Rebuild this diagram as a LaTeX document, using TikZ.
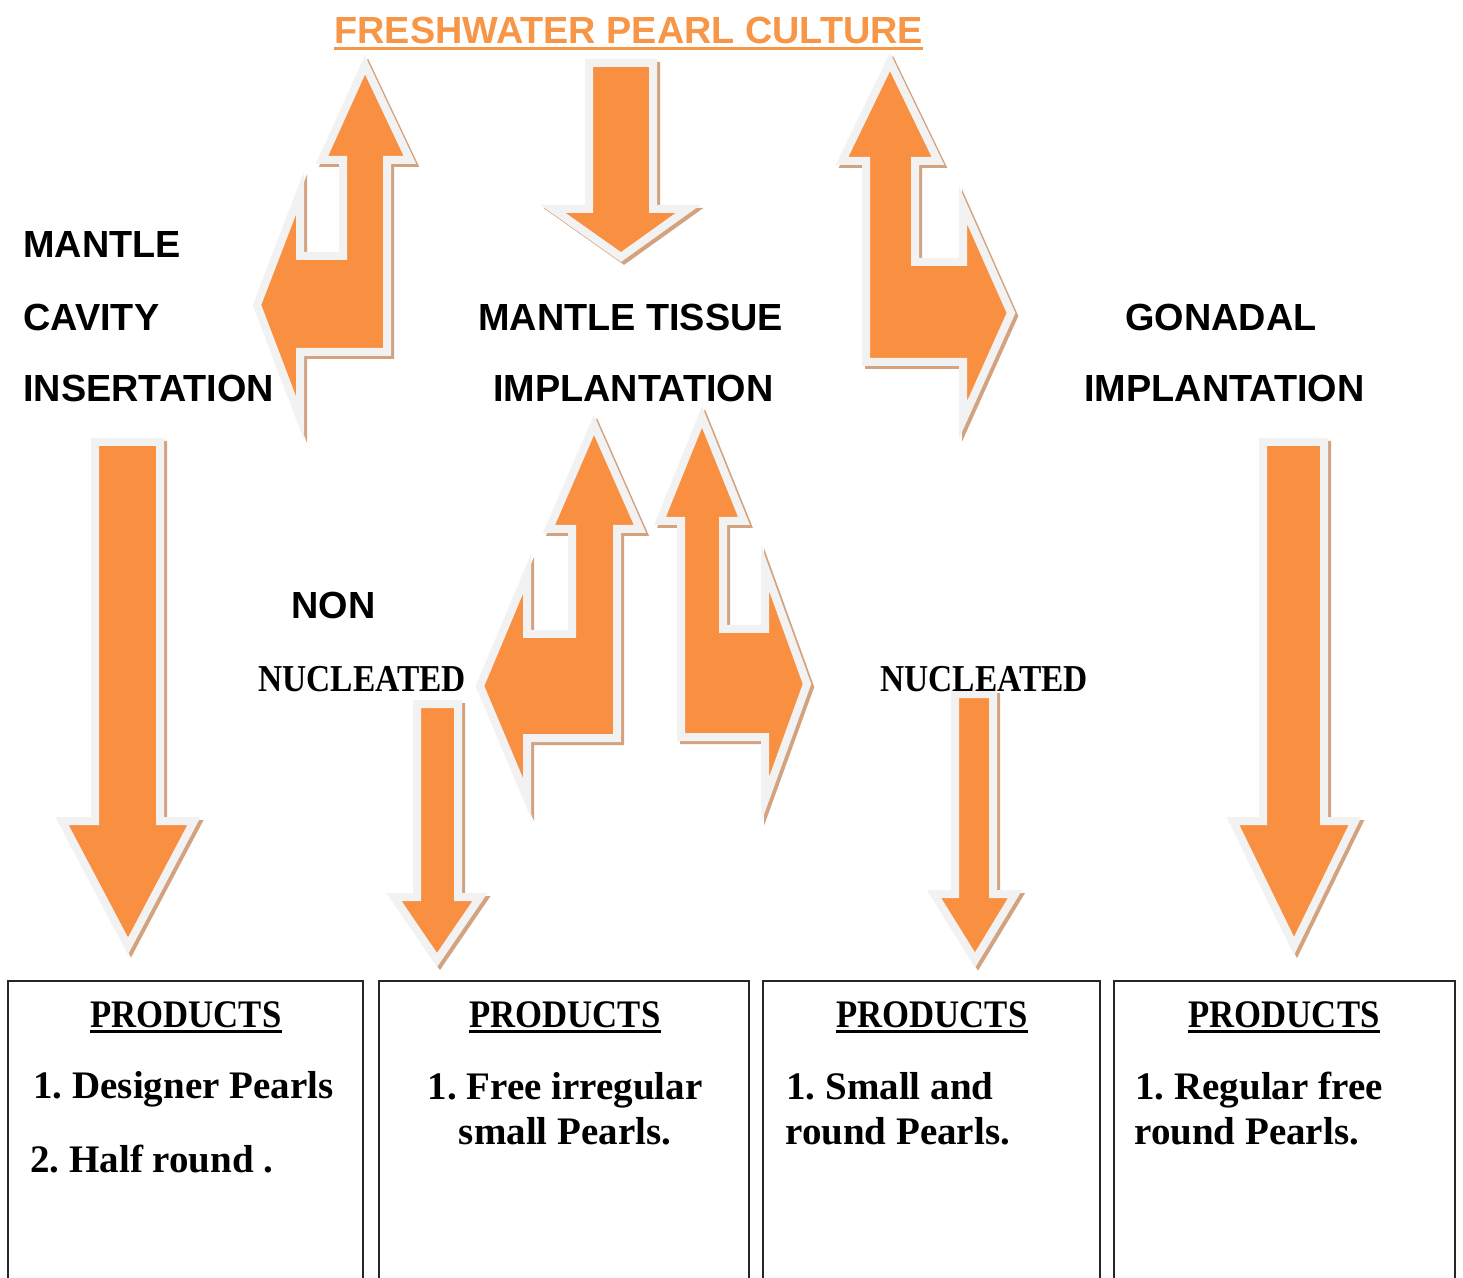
\documentclass[tikz,border=0pt]{standalone}
\usepackage{fontspec}
\setmainfont{Liberation Serif}
\newfontfamily\sansfam{Liberation Sans}
\definecolor{orA}{HTML}{F98F40}
\definecolor{orT}{HTML}{F79646}
\definecolor{grayB}{HTML}{F2F2F2}
\definecolor{tanS}{HTML}{D3A380}
\frenchspacing
\tikzset{
  arrbody/.style={fill=orA, draw=grayB, line width=4pt, line join=miter, miter limit=12},
  arrshadow/.style={fill=tanS, draw=tanS, line width=4pt, line join=miter, miter limit=12},
  lab/.style={font=\sansfam\bfseries\fontsize{18.9}{20}\selectfont, anchor=base west, inner sep=0pt},
  serlab/.style={font=\bfseries\fontsize{19}{20}\selectfont, anchor=base west, inner sep=0pt},
  prodbox/.style={draw=black!85, line width=1.1pt},
  prodhead/.style={font=\bfseries\fontsize{19.5}{22}\selectfont, anchor=base, inner sep=0pt},
  prodtext/.style={font=\bfseries\fontsize{19.5}{22}\selectfont, anchor=base west, inner sep=0pt},
  prodtextc/.style={font=\bfseries\fontsize{19.5}{22}\selectfont, anchor=base, inner sep=0pt},
  uline/.style={line width=1.5pt},
}
\newcommand\pearlarrow[1]{%
  \draw[arrshadow, shift={(3,3)}] #1 -- cycle;
  \draw[arrbody] #1 -- cycle;}
\begin{document}
\begin{tikzpicture}[x=0.5pt,y=-0.5pt]
\clip (0,0) rectangle (1463,1278);
\fill[white] (0,0) rectangle (1463,1278);
% title
\node[anchor=base west, inner sep=0pt, text=orT, font=\sansfam\bfseries\fontsize{18.9}{20}\selectfont] (title) at (334,44) {FRESHWATER PEARL CULTURE};
\draw[orT, uline] ([yshift=-2.5pt]title.base west) -- ([yshift=-2.5pt]title.base east);
% arrows
\pearlarrow{(365,65) -- (410,160) -- (387,160) -- (387,352) -- (300,352) -- (300,418) -- (257,305) -- (300,193) -- (300,256) -- (343,256) -- (343,160) -- (322,160)}
\pearlarrow{(621,257) -- (553,209) -- (589,209) -- (589,63) -- (653,63) -- (653,209) -- (688,209)}
\pearlarrow{(890,62) -- (938,161) -- (915,161) -- (915,262) -- (963,262) -- (963,205) -- (1011,313) -- (963,420) -- (963,362) -- (866,362) -- (866,161) -- (842,161)}
\pearlarrow{(594,425) -- (640,529) -- (617,529) -- (617,738) -- (527,738) -- (527,798) -- (480,686) -- (527,574) -- (527,634) -- (572,634) -- (572,529) -- (549,529)}
\pearlarrow{(702,417) -- (744,521) -- (723,521) -- (723,629) -- (765,629) -- (765,568) -- (807,684) -- (765,800) -- (765,737) -- (681,737) -- (681,521) -- (660,521)}
\pearlarrow{(95,442) -- (160,442) -- (160,821) -- (194,821) -- (128,946) -- (62,821) -- (95,821)}
\pearlarrow{(1263,442) -- (1324,442) -- (1324,821) -- (1355,821) -- (1294,946) -- (1233,821) -- (1263,821)}
\pearlarrow{(417,704) -- (458,704) -- (458,897) -- (480,897) -- (437,960) -- (394,897) -- (417,897)}
\pearlarrow{(955,694) -- (993,694) -- (993,894) -- (1015,894) -- (975,960) -- (934,894) -- (955,894)}
% labels
\node[lab] (m1) at (23,258) {MANTLE};
\node[lab] (m2) at (23,331) {CAVITY};
\node[lab] (m3) at (23,402) {INSERTATION};
\node[lab] (t1) at (478,331) {MANTLE TISSUE};
\node[lab] (t2) at (493,402) {IMPLANTATION};
\node[lab] (g1) at (1125,331) {GONADAL};
\node[lab] (g2) at (1084,402) {IMPLANTATION};
\node[lab] (n1) at (291,618) {NON};
\node[serlab] (n2) at (258,691) {\scalebox{0.88}[1]{NUCLEATED}};
\node[serlab] (n3) at (880,691) {\scalebox{0.88}[1]{NUCLEATED}};
% product boxes
\draw[prodbox] (8,1300) -- (8,981) -- (363,981) -- (363,1300);
\draw[prodbox] (379,1300) -- (379,981) -- (749,981) -- (749,1300);
\draw[prodbox] (763,1300) -- (763,981) -- (1100,981) -- (1100,1300);
\draw[prodbox] (1114,1300) -- (1114,981) -- (1455,981) -- (1455,1300);
\node[prodhead] (p1) at (186,1027) {\scalebox{0.89}[1]{PRODUCTS}};
\node[prodhead] (p2) at (565,1027) {\scalebox{0.89}[1]{PRODUCTS}};
\node[prodhead] (p3) at (932,1027) {\scalebox{0.89}[1]{PRODUCTS}};
\node[prodhead] (p4) at (1284,1027) {\scalebox{0.89}[1]{PRODUCTS}};
\foreach \p in {p1,p2,p3,p4}{
  \draw[uline] ([yshift=-2.2pt]\p.base west) -- ([yshift=-2.2pt]\p.base east);
}
\node[prodtext] (a1) at (33,1098) {1. Designer Pearls};
\node[prodtext] (a2) at (30,1172) {2. Half round .};
\node[prodtextc] (b1) at (565,1099) {1. Free irregular};
\node[prodtextc] (b2) at (565,1144) {small Pearls.};
\node[prodtext] (c1) at (786,1099) {1. Small and};
\node[prodtext] (c2) at (785,1144) {round Pearls.};
\node[prodtext] (d1) at (1135,1099) {1. Regular free};
\node[prodtext] (d2) at (1134,1144) {round Pearls.};
\end{tikzpicture}
\end{document}
